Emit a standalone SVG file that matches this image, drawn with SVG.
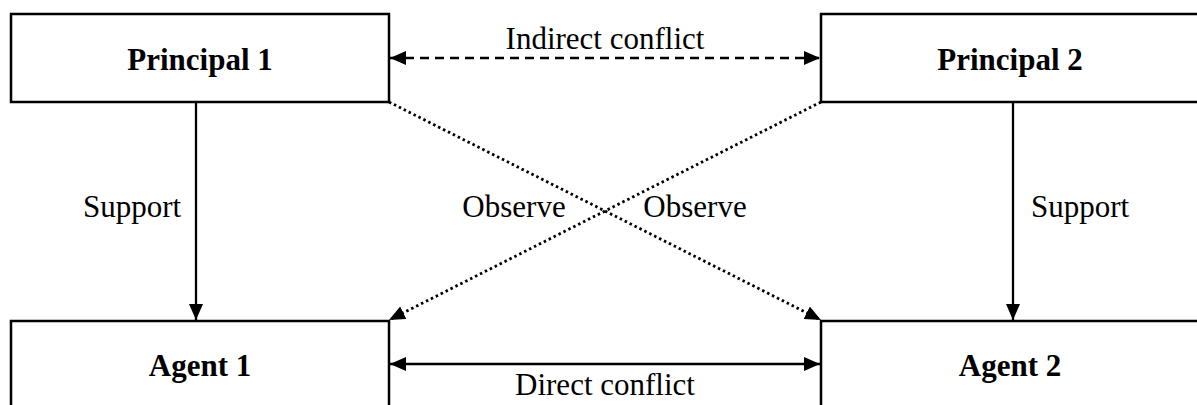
<svg xmlns="http://www.w3.org/2000/svg" width="1197" height="405" viewBox="0 0 1197 405">
<style>
.box{fill:#fff;stroke:#000;stroke-width:2.5}
.title{font-family:"Liberation Serif","Times New Roman",serif;font-weight:bold;font-size:31px;text-anchor:middle;fill:#000}
.lbl{font-family:"Liberation Serif","Times New Roman",serif;font-size:31px;text-anchor:middle;fill:#000}
.ln{stroke:#000;stroke-width:2.3;fill:none}
.dash{stroke-dasharray:9 6}
.dot{stroke-dasharray:2.5 3;stroke-width:2.8}
</style>
<defs>
<marker id="ah" viewBox="0 0 16 14" refX="16" refY="7" markerWidth="16" markerHeight="14" markerUnits="userSpaceOnUse" orient="auto-start-reverse">
<path d="M0,0 L16,7 L0,14 Z" fill="#000"/>
</marker>
</defs>
<rect width="1197" height="405" fill="#fff"/>
<g id="principal1"><rect class="box" x="11" y="14" width="378" height="88"/><text class="title" x="200" y="70">Principal 1</text></g>
<g id="principal2"><rect class="box" x="821" y="14" width="378" height="88"/><text class="title" x="1010" y="70">Principal 2</text></g>
<g id="agent1"><rect class="box" x="11" y="321" width="378" height="90"/><text class="title" x="200" y="376">Agent 1</text></g>
<g id="agent2"><rect class="box" x="821" y="321" width="378" height="90"/><text class="title" x="1010" y="376">Agent 2</text></g>
<g id="connectors">
<line class="ln" x1="196" y1="102" x2="196" y2="320" marker-end="url(#ah)"/>
<line class="ln" x1="1013" y1="102" x2="1013" y2="320" marker-end="url(#ah)"/>
<line class="ln dash" x1="390" y1="58" x2="820" y2="58" marker-start="url(#ah)" marker-end="url(#ah)"/>
<line class="ln" x1="390" y1="364" x2="820" y2="364" marker-start="url(#ah)" marker-end="url(#ah)"/>
<line class="ln dot" x1="389" y1="102" x2="821" y2="320" marker-end="url(#ah)"/>
<line class="ln dot" x1="821" y1="102" x2="389" y2="320" marker-end="url(#ah)"/>
<text class="lbl" x="605" y="49">Indirect conflict</text>
<text class="lbl" x="605" y="395">Direct conflict</text>
<text class="lbl" x="132" y="217">Support</text>
<text class="lbl" x="1080" y="217">Support</text>
<text class="lbl" x="514" y="217">Observe</text>
<text class="lbl" x="695" y="217">Observe</text>
</g>
</svg>
